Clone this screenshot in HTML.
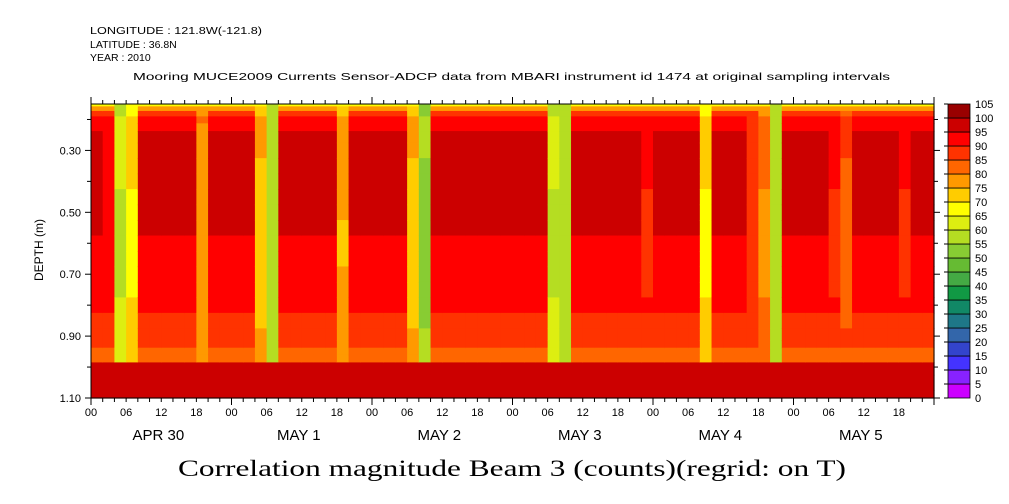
<!DOCTYPE html>
<html><head><meta charset="utf-8">
<style>
html,body{margin:0;padding:0;background:#fff;}
svg{display:block;font-family:"Liberation Sans",sans-serif;}
</style></head>
<body>
<svg id="chart" width="1009" height="504" viewBox="0 0 1009 504" xmlns="http://www.w3.org/2000/svg">
<g font-size="10.5" fill="#000">
<text x="90" y="34" textLength="172" lengthAdjust="spacingAndGlyphs">LONGITUDE : 121.8W(-121.8)</text>
<text x="90" y="48" font-size="10.5">LATITUDE : 36.8N</text>
<text x="90" y="61" font-size="10.5">YEAR : 2010</text>
<text x="133" y="80" textLength="757" lengthAdjust="spacingAndGlyphs">Mooring MUCE2009 Currents Sensor-ADCP data from MBARI instrument id 1474 at original sampling intervals</text>
</g>
<g id="cells"></g>
<g id="axes"></g>
<g id="cbar"></g>
<text x="512" y="476" text-anchor="middle" font-family="'Liberation Serif',serif" font-size="23" textLength="668" lengthAdjust="spacingAndGlyphs">Correlation magnitude Beam 3 (counts)(regrid: on T)</text>
<text transform="translate(43,250) rotate(-90)" text-anchor="middle" font-size="12">DEPTH (m)</text>
</svg>
<script>
// ---- data ----
const depthTicks = [0.30, 0.50, 0.70, 0.90, 1.10];
const depthMinorTicks = [0.20, 0.40, 0.60, 0.80, 1.00];
const hourLabels = ["00","06","12","18"];
const dayLabels = ["APR 30","MAY  1","MAY  2","MAY  3","MAY  4","MAY  5"];
const levels = [0,5,10,15,20,25,30,35,40,45,50,55,60,65,70,75,80,85,90,95,100,105];
const levelColors = ["#cc00ff","#8822ff","#4433ff","#3344cc","#3366aa","#1e7788","#118866","#119944","#44aa44","#66bb33","#88cc33","#b5dd22","#ddee11","#ffff00","#ffcc00","#ff9900","#ff6600","#ff3300","#ff0000","#cc0000","#990000"];
// depth rows (m) and typical profile value
const depths = [0.15,0.165,0.18,0.2,0.225,0.25,0.3,0.35,0.4,0.45,0.5,0.55,0.6,0.65,0.7,0.75,0.8,0.85,0.9,0.925,0.95,0.97,1.0,1.05,1.1];
const profile = [68,78,86,91,93,96,96,96,96,96,96,95,93,92,92,92,91,89,88,87,84,80,98,98,98];
// per 2-hour bin minimum correlation in the water column (72 bins over 6 days)
const colMin = [
 100,90,58,68,100,100,100,100,100,76,100,100,
 100,100,72,55,100,100,100,100,100,74,100,100,
 100,100,100,72,52,100,100,100,100,100,100,100,
 100,100,100,58,55,100,100,100,100,100,100,88,
 100,100,100,100,68,100,100,100,85,78,55,100,
 100,100,100,88,82,100,100,100,100,88,100,100];
// ---- render ----
const NS="http://www.w3.org/2000/svg";
const X0=91,X1=934,Y0=104,Y1=398,D0=0.15,D1=1.10,HOURS=144;
const xs=h=>X0+(X1-X0)*h/HOURS;
const ys=d=>Y0+(Y1-Y0)*(d-D0)/(D1-D0);
function color(v){for(let i=levels.length-2;i>=0;i--){if(v>=levels[i])return levelColors[i];}return levelColors[0];}
function mk(tag,attrs,parent){const e=document.createElementNS(NS,tag);for(const k in attrs)e.setAttribute(k,attrs[k]);parent.appendChild(e);return e;}
const cells=document.getElementById('cells');
for(let c=0;c<colMin.length;c++){
  const h0=c*2,h1=h0+2;
  for(let r=0;r<depths.length;r++){
    const dTop=r===0?D0:(depths[r-1]+depths[r])/2;
    const dBot=r===depths.length-1?D1:(depths[r]+depths[r+1])/2;
    let v=profile[r];
    if(depths[r]<0.98) v=Math.min(v,colMin[c]+(depths[r]<0.2?0:10*Math.abs(depths[r]-0.6)));
    const rc=mk('rect',{x:xs(h0).toFixed(2),y:ys(dTop).toFixed(2),width:(xs(h1)-xs(h0)+0.6).toFixed(2),height:(ys(dBot)-ys(dTop)+0.6).toFixed(2),fill:color(v)},cells);
    
    
  }
}
const ax=document.getElementById('axes');
const frame=mk('rect',{x:X0,y:Y0,width:X1-X0,height:Y1-Y0,fill:'none',stroke:'#000','stroke-width':1},ax);


for(let h=0;h<=HOURS;h+=2){
  const x=xs(h);const big=h%24===0;const mid=h%6===0;
  const len=big?7:4;
  mk('line',{x1:x,y1:Y1,x2:x,y2:Y1+len,stroke:'#000'},ax);
  mk('line',{x1:x,y1:Y0,x2:x,y2:Y0-len,stroke:'#000'},ax);
  if(mid&&h<HOURS){
    const t=mk('text',{x:x,y:Y1+18,'text-anchor':'middle','font-size':11},ax);
    t.textContent=hourLabels[(h%24)/6];
    
    
  }
}
for(let d=0;d<dayLabels.length;d++){
  const t=mk('text',{x:xs(d*24+11.5),y:Y1+42,'text-anchor':'middle','font-size':15},ax);
  t.textContent=dayLabels[d];
  
  
}
depthTicks.forEach(d=>{
  const y=ys(d);
  mk('line',{x1:X0-6,y1:y,x2:X0,y2:y,stroke:'#000'},ax);
  mk('line',{x1:X1,y1:y,x2:X1+6,y2:y,stroke:'#000'},ax);
  const t=mk('text',{x:X0-10,y:y+4,'text-anchor':'end','font-size':11},ax);
  t.textContent=d.toFixed(2);
  
  
});
depthMinorTicks.forEach(d=>{const y=ys(d);mk('line',{x1:X0-4,y1:y,x2:X0,y2:y,stroke:'#000'},ax);mk('line',{x1:X1,y1:y,x2:X1+4,y2:y,stroke:'#000'},ax);});
const cb=document.getElementById('cbar');
const CX=948,CW=22,CT=104,CB=398,n=levelColors.length,bh=(CB-CT)/n;
for(let i=0;i<n;i++){
  const y=CB-(i+1)*bh;
  const b=mk('rect',{x:CX,y:y,width:CW,height:bh,fill:levelColors[i],stroke:'#000','stroke-width':0.8},cb);
  
  
}
for(let i=0;i<levels.length;i++){
  const y=CB-i*bh;
  mk('line',{x1:CX-4,y1:y,x2:CX,y2:y,stroke:'#000'},cb);
  const t=mk('text',{x:CX+27,y:y+4,'font-size':11},cb);
  t.textContent=levels[i];
  
  
}
</script>
</body></html>
